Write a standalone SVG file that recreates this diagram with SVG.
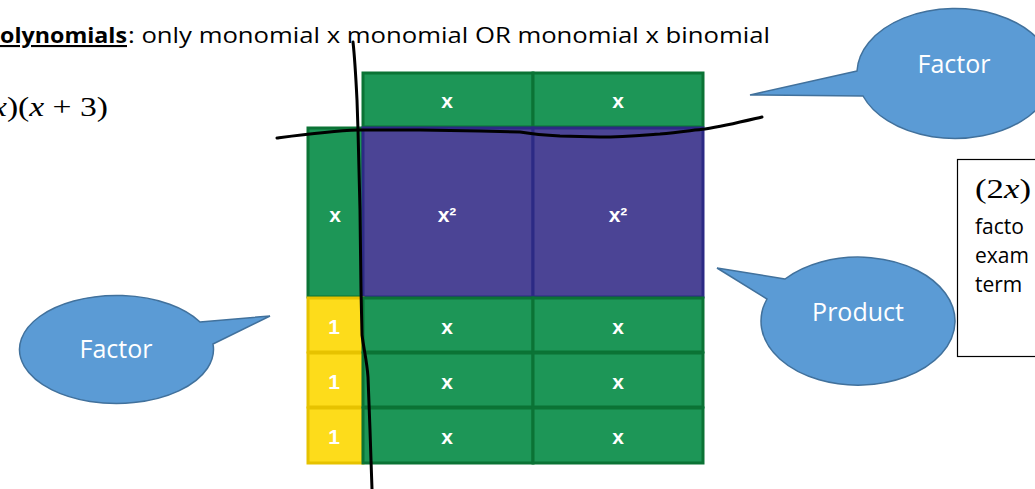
<svg xmlns="http://www.w3.org/2000/svg" width="1035" height="489" viewBox="0 0 1035 489">
  <style>
    .g { fill: #1d9657; stroke: #0b7335; stroke-width: 3; }
    .p { fill: #4b4495; stroke: #2c2a85; stroke-width: 3; }
    .y { fill: #fddc1b; stroke: #e6c200; stroke-width: 3; }
    .lbl { font-family: "Liberation Sans", Arial, sans-serif; font-size: 21px; font-weight: bold; fill: #ffffff; text-anchor: middle; dominant-baseline: central; }
    .bubble { fill: #5b9bd5; stroke: #41719c; stroke-width: 1.5; }
    .btxt { font-family: "Open Sans", "Liberation Sans", sans-serif; font-size: 25px; fill: #ffffff; text-anchor: middle; dominant-baseline: central; }
    .body { font-family: "Open Sans", "Liberation Sans", sans-serif; font-size: 21px; fill: #000000; }
    .note { font-family: "Open Sans", "Liberation Sans", sans-serif; font-size: 21px; fill: #000000; }
    .math { font-family: "Liberation Serif", "Times New Roman", serif; font-size: 27px; fill: #000000; }
    .pen { fill: none; stroke: #000000; stroke-width: 3; stroke-linecap: round; stroke-linejoin: round; }
  </style>

  <!-- heading lines -->
  <g id="heading">
    <text class="body" x="0" y="43" font-weight="bold" text-decoration="underline" textLength="127" lengthAdjust="spacingAndGlyphs">olynomials</text>
    <text class="body" x="128" y="43" textLength="642" lengthAdjust="spacingAndGlyphs">: only monomial x monomial OR monomial x binomial</text>
    <text class="math" x="-8" y="116" textLength="116" lengthAdjust="spacingAndGlyphs"><tspan font-style="italic">x</tspan>)(<tspan font-style="italic">x</tspan> + 3)</text>
  </g>

  <!-- algebra tile grid -->
  <g id="tile-top-x1"><rect class="g" x="363" y="73" width="170" height="54"/><text class="lbl" x="447" y="100">x</text></g>
  <g id="tile-top-x2"><rect class="g" x="533" y="73" width="170" height="54"/><text class="lbl" x="618" y="100">x</text></g>
  <g id="tile-left-x"><rect class="g" x="308" y="128" width="55" height="169"/><text class="lbl" x="335" y="214">x</text></g>
  <g id="tile-sq1"><rect class="p" x="363" y="128" width="170" height="169"/><text class="lbl" x="447" y="214">x²</text></g>
  <g id="tile-sq2"><rect class="p" x="533" y="128" width="170" height="169"/><text class="lbl" x="618" y="214">x²</text></g>

  <g id="tile-one1"><rect class="y" x="308" y="298" width="55" height="54"/><text class="lbl" x="334" y="326">1</text></g>
  <g id="tile-one2"><rect class="y" x="308" y="353" width="55" height="54"/><text class="lbl" x="334" y="381">1</text></g>
  <g id="tile-one3"><rect class="y" x="308" y="408" width="55" height="55"/><text class="lbl" x="334" y="436">1</text></g>

  <g id="tile-r1a"><rect class="g" x="363" y="298" width="170" height="54"/><text class="lbl" x="447" y="326">x</text></g>
  <g id="tile-r1b"><rect class="g" x="533" y="298" width="170" height="54"/><text class="lbl" x="618" y="326">x</text></g>
  <g id="tile-r2a"><rect class="g" x="363" y="353" width="170" height="54"/><text class="lbl" x="447" y="381">x</text></g>
  <g id="tile-r2b"><rect class="g" x="533" y="353" width="170" height="54"/><text class="lbl" x="618" y="381">x</text></g>
  <g id="tile-r3a"><rect class="g" x="363" y="408" width="170" height="55"/><text class="lbl" x="447" y="436">x</text></g>
  <g id="tile-r3b"><rect class="g" x="533" y="408" width="170" height="55"/><text class="lbl" x="618" y="436">x</text></g>

  <!-- hand-drawn dividing strokes -->
  <g id="connectors">
    <path class="pen" d="M353,42 C355,60 356,80 357,100 L358,130 L360,210 L361,290 L362,335 C364,350 367,362 368,377 L370,430 L371,460 L372,489"/>
    <path class="pen" d="M277,138 C300,135 330,131 358,130 L420,130 L480,131 L520,132 C532,134 540,135 560,136 L600,137 C625,137 645,135 660,134 C680,132 695,130 705,129 C725,126 745,121 762,117"/>
  </g>

  <!-- callouts -->
  <g id="callout-factor-top">
    <path class="bubble" d="M857,71 L750,95 L863,96 A98 65 0 1 0 857,71 Z"/>
    <text class="btxt" x="954" y="63">Factor</text>
  </g>
  <g id="callout-product">
    <path class="bubble" d="M785,279 L717,268 L767,299 A97 64 0 1 0 785,279 Z"/>
    <text class="btxt" x="858" y="311">Product</text>
  </g>
  <g id="callout-factor-left">
    <path class="bubble" d="M200,322 L270,316 L213,344 A97 54 0 1 1 200,322 Z"/>
    <text class="btxt" x="116" y="348">Factor</text>
  </g>

  <!-- note box -->
  <g id="note">
    <rect x="957.5" y="159.5" width="90" height="197" fill="#ffffff" stroke="#000000" stroke-width="1.2"/>
    <text class="math" x="975" y="198" textLength="56" lengthAdjust="spacingAndGlyphs">(2<tspan font-style="italic">x</tspan>)</text>
    <text class="note" x="975" y="234">facto</text>
    <text class="note" x="975" y="263">exam</text>
    <text class="note" x="975" y="292">term</text>
  </g>
</svg>
